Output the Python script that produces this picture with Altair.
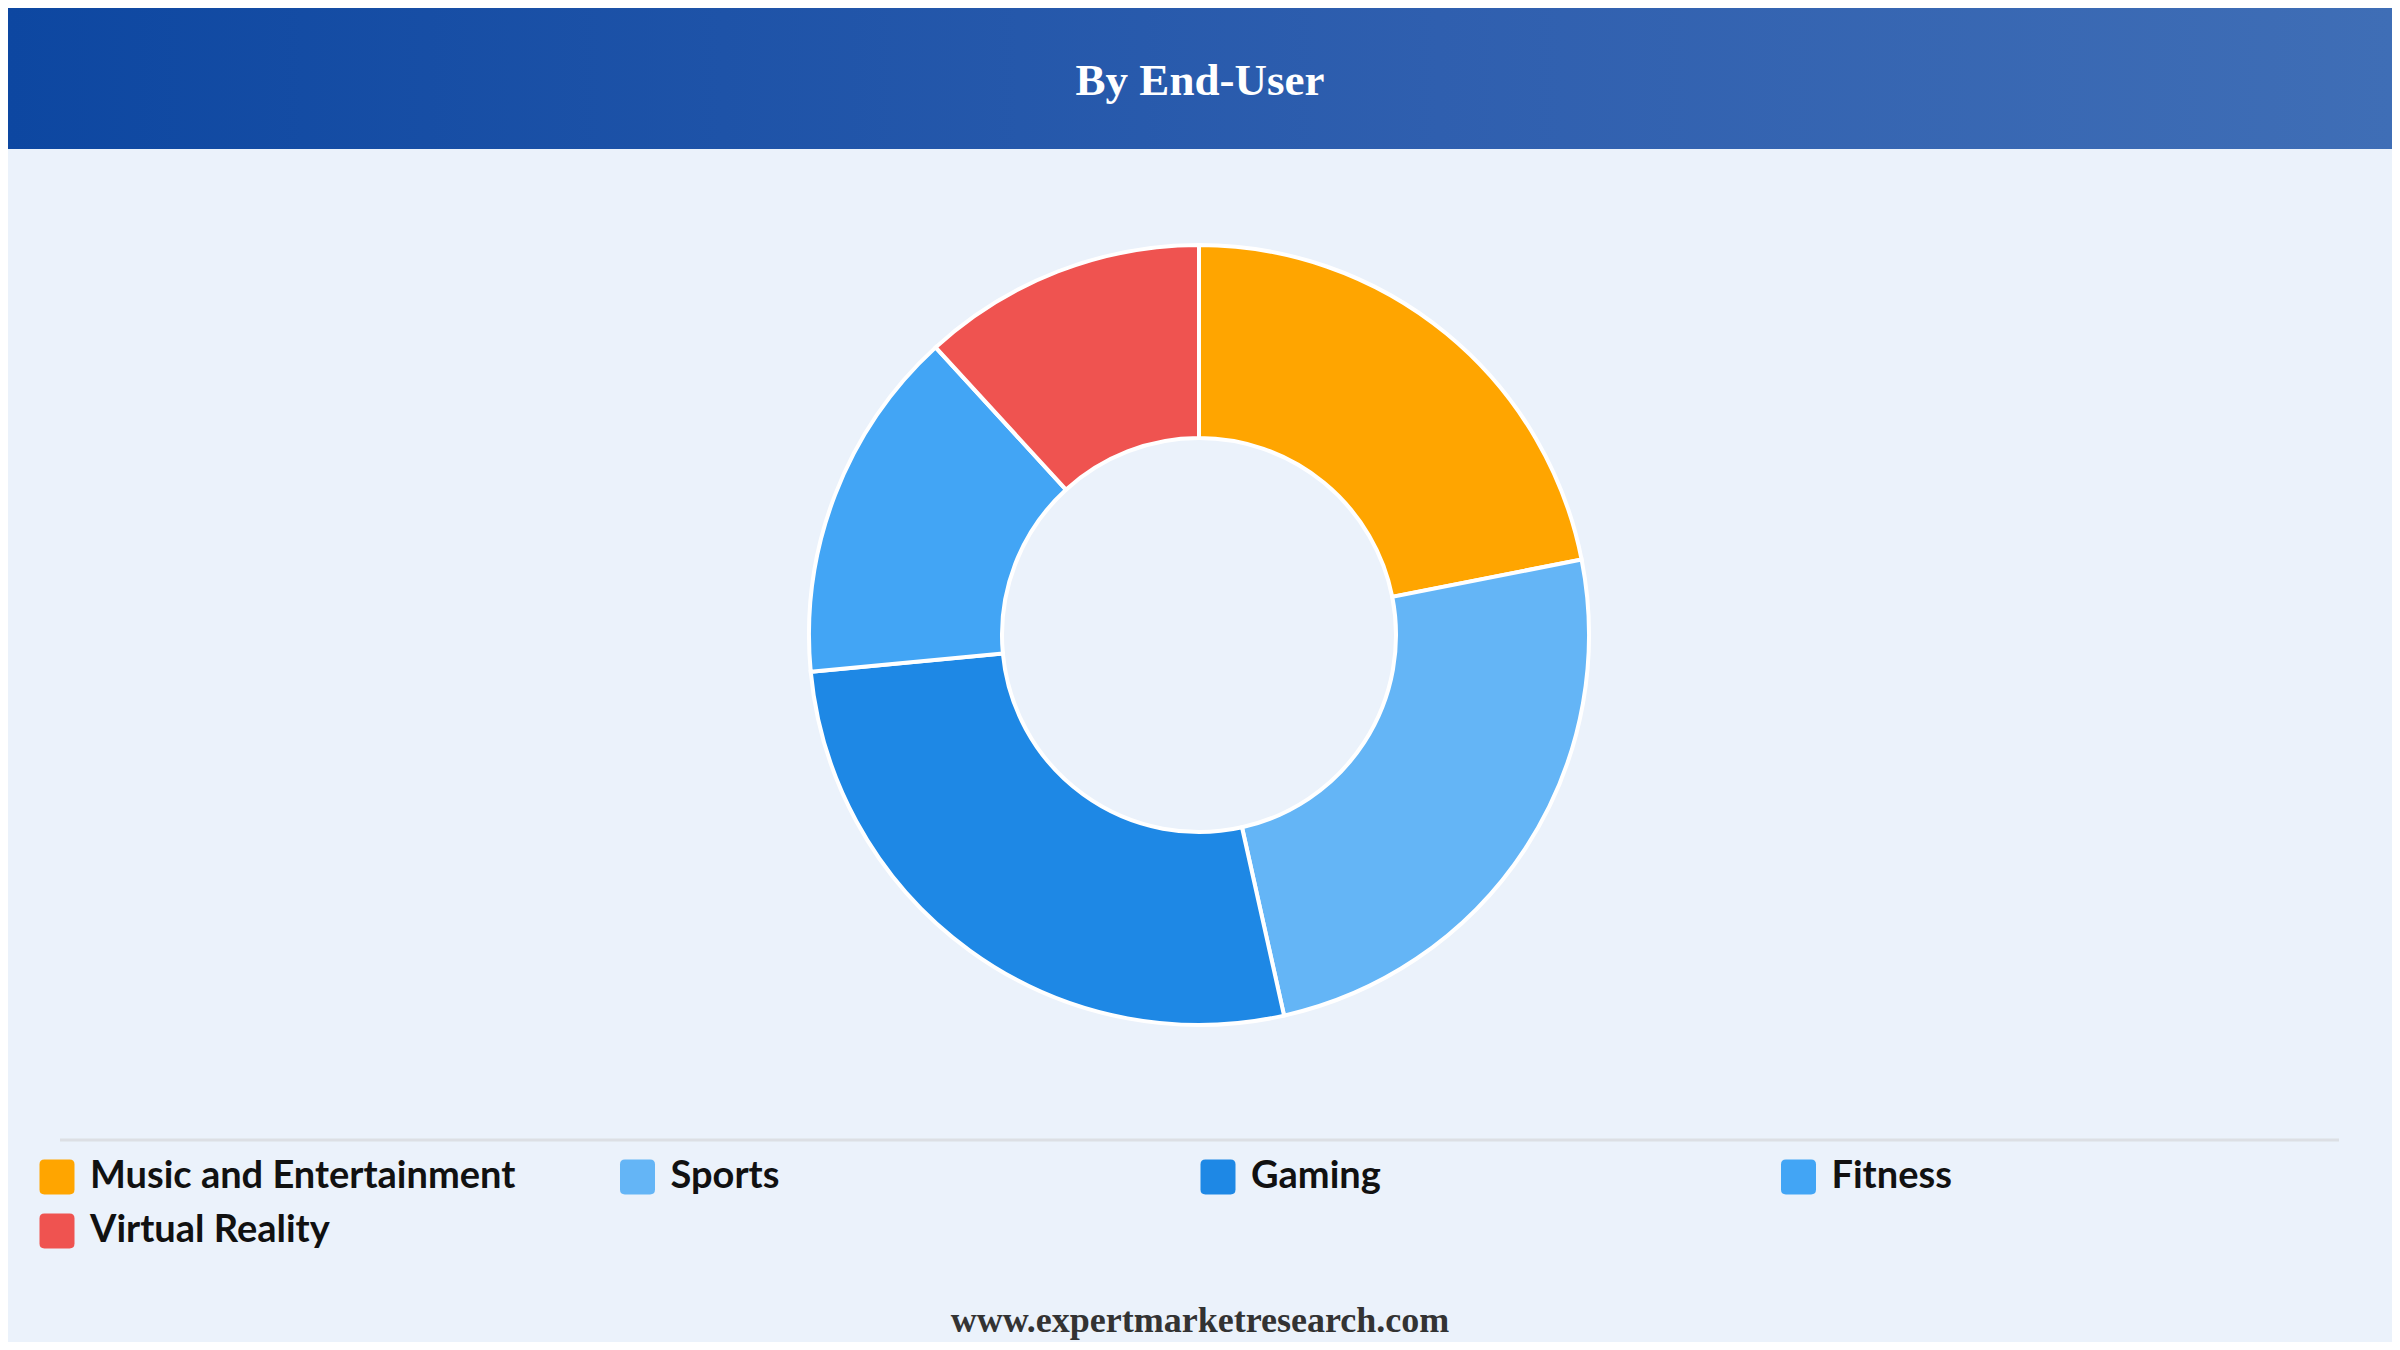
import altair as alt
import pandas as pd

# ---- data ----
segments = ["Music and Entertainment", "Sports", "Gaming", "Fitness", "Virtual Reality"]
shares = [21.9, 24.6, 27.0, 14.7, 11.8]
colors = ["#FFA500", "#64B5F6", "#1E88E5", "#42A5F5", "#EF5350"]
title_text = ["By End-User"]
footer_text = ["www.expertmarketresearch.com"]

W, H = 2384, 1334
BG = "#EBF2FB"

df = pd.DataFrame({"segment": segments, "share": shares, "idx": list(range(len(segments)))})

rounded_square = ("M -0.72 -1 L 0.72 -1 Q 1 -1 1 -0.72 L 1 0.72 Q 1 1 0.72 1 "
                  "L -0.72 1 Q -1 1 -1 0.72 L -1 -0.72 Q -1 -1 -0.72 -1 Z")

header = alt.Chart(pd.DataFrame({"t": title_text})).mark_rect(
    color=alt.LinearGradient(
        gradient="linear",
        stops=[alt.GradientStop(color="#0D47A1", offset=0),
               alt.GradientStop(color="#2F5FAF", offset=0.6),
               alt.GradientStop(color="#3F6EB6", offset=1)],
        x1=0, x2=1, y1=0, y2=0),
).encode(x=alt.value(0), x2=alt.value(W), y=alt.value(0), y2=alt.value(141))

title = alt.Chart(pd.DataFrame({"t": title_text})).mark_text(
    font="Liberation Serif", fontWeight="bold", fontSize=45, color="white",
    align="center", baseline="middle",
).encode(text="t:N", x=alt.value(W / 2), y=alt.value(73))

donut = alt.Chart(df).mark_arc(
    innerRadius=197, outerRadius=390, stroke="white", strokeWidth=4,
).encode(
    theta=alt.Theta("share:Q", stack=True),
    order=alt.Order("idx:Q"),
    color=alt.Color(
        "segment:N",
        sort=segments,
        scale=alt.Scale(domain=segments, range=colors),
        legend=alt.Legend(
            title=None, orient="none", legendX=30, legendY=1150,
            direction="horizontal", columns=4, columnPadding=102.5, rowPadding=16,
            gridAlign="all", padding=0,
            symbolType=rounded_square, symbolSize=1225, symbolStrokeWidth=0,
            symbolOpacity=1,
            labelFont="Lato", labelFontWeight="bold", labelFontSize=38,
            labelColor="#111111", labelOffset=14, labelLimit=700,
        ),
    ),
    x=alt.value(1191),
    y=alt.value(627),
)

sep = alt.Chart(pd.DataFrame({"t": title_text})).mark_rule(
    color="#DCDFE4", strokeWidth=3,
).encode(x=alt.value(52), x2=alt.value(2331), y=alt.value(1132))

footer = alt.Chart(pd.DataFrame({"t": footer_text})).mark_text(
    font="Liberation Serif", fontWeight="bold", fontSize=36, color="#333333",
    align="center", baseline="middle",
).encode(text="t:N", x=alt.value(W / 2), y=alt.value(1313))

chart = alt.layer(header, title, donut, sep, footer).properties(
    width=W, height=H, padding=0,
    autosize=alt.AutoSizeParams(type="none"),
    background=BG,
).configure_view(strokeWidth=0)

chart.save("out.html", embed_options={"renderer": "svg", "actions": False})
